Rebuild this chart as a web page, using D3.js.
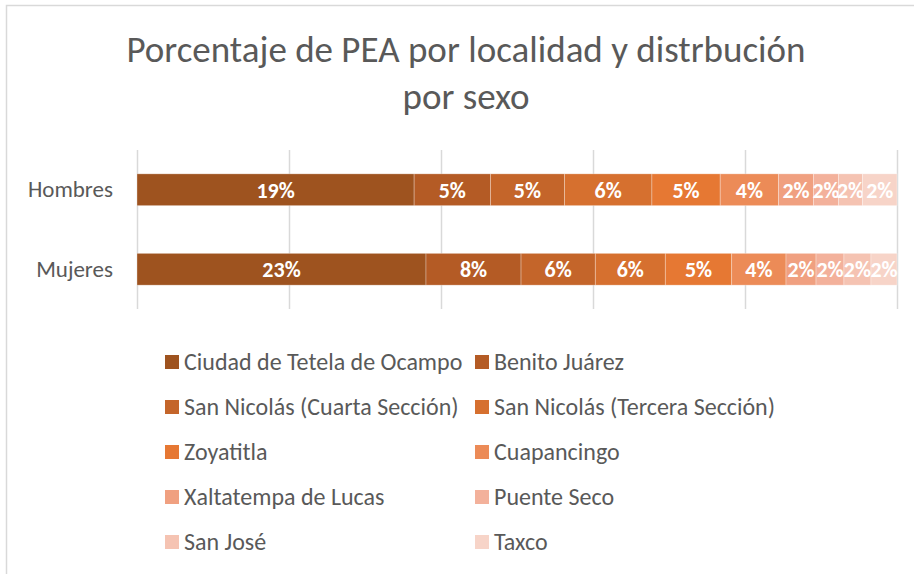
<!DOCTYPE html>
<html>
<head>
<meta charset="utf-8">
<script src="https://cdn.jsdelivr.net/npm/d3@7"></script>
<style>
  body { margin: 0; background: #fff; }
  svg { display: block; }
</style>
</head>
<body>
<div id="chart"></div>
<script>
// data (percent of PEA per locality)
const categories = ["Hombres", "Mujeres"];
const localidades = [
  "Ciudad de Tetela de Ocampo", "Benito Juárez",
  "San Nicolás (Cuarta Sección)", "San Nicolás (Tercera Sección)",
  "Zoyatitla", "Cuapancingo",
  "Xaltatempa de Lucas", "Puente Seco",
  "San José", "Taxco"
];
const hombres = [18.95, 5.22, 5.06, 5.98, 4.67, 3.99, 2.39, 1.71, 1.64, 2.36];
const mujeres = [23.2, 7.63, 5.96, 5.62, 5.33, 4.36, 2.41, 2.24, 2.17, 2.09];
const colores = ["#9E531F", "#B45B25", "#C4652A", "#D6702F", "#E67833",
                 "#EC8B57", "#F0A080", "#F3B19B", "#F5C3B2", "#F7D4C8"];
const gridTicks = [0, 0.2, 0.4, 0.6, 0.8, 1];

const width = 914, height = 574;
const font = "Carlito, Calibri, Lato, sans-serif";
const textColor = "#595959";

const svg = d3.select("#chart").append("svg")
  .attr("width", width).attr("height", height);

// chart border (only top/left visible in the crop)
svg.append("rect")
  .attr("x", 6.5).attr("y", 5.5)
  .attr("width", width + 20).attr("height", height + 20)
  .attr("fill", "#fff").attr("stroke", "#D9D9D9").attr("stroke-width", 1.5);

// title
const title = svg.append("text")
  .attr("text-anchor", "middle")
  .attr("font-family", font).attr("font-size", 37)
  .attr("fill", textColor);
title.append("tspan").attr("x", 466).attr("y", 62).text("Porcentaje de PEA por localidad y distrbución");
title.append("tspan").attr("x", 466).attr("y", 109).text("por sexo");

// rows for stacking
const rows = categories.map((c, i) => {
  const vals = i === 0 ? hombres : mujeres;
  const r = { cat: c };
  localidades.forEach((l, j) => r[l] = vals[j]);
  return r;
});

const series = d3.stack()
  .keys(localidades)
  .offset(d3.stackOffsetExpand)(rows);

const x = d3.scaleLinear().domain([0, 1]).range([137, 897]);
const y = d3.scaleBand().domain(categories).range([150, 309])
  .paddingInner(0.6).paddingOuter(0.3);

// gridlines
const grid = svg.append("g")
  .attr("transform", "translate(0,309)")
  .call(d3.axisBottom(x).tickValues(gridTicks).tickSize(-159).tickFormat(""));
grid.select(".domain").remove();
grid.selectAll("line").attr("stroke", "#D9D9D9").attr("stroke-width", 1.5);

// category axis
const gy = svg.append("g")
  .attr("transform", "translate(137,0)")
  .call(d3.axisLeft(y).tickSize(0).tickPadding(24));
gy.select(".domain").remove();
gy.selectAll("text")
  .attr("font-family", font).attr("font-size", 23).attr("fill", textColor);

// bars
const layer = svg.append("g").selectAll("g")
  .data(series).enter().append("g")
  .attr("fill", (d, i) => colores[i]);

layer.selectAll("rect")
  .data(d => d).enter().append("rect")
  .attr("x", d => x(d[0]))
  .attr("y", d => y(d.data.cat))
  .attr("width", d => x(d[1]) - x(d[0]))
  .attr("height", y.bandwidth())
  .attr("stroke", "#fff").attr("stroke-opacity", 0.4).attr("stroke-width", 0.75);

// data labels
const fmt = d3.format(".0%");
layer.each(function (s) {
  d3.select(this).selectAll("text")
    .data(s).enter().append("text")
    .attr("x", d => (x(d[0]) + x(d[1])) / 2)
    .attr("y", d => y(d.data.cat) + y.bandwidth() / 2)
    .attr("dy", "0.36em")
    .attr("text-anchor", "middle")
    .attr("font-family", font).attr("font-size", 22).attr("font-weight", "bold")
    .attr("fill", "#fff")
    .text(d => fmt(d.data[s.key] / 100));
});

// legend, two columns
const legend = svg.append("g");
const item = legend.selectAll("g")
  .data(localidades).enter().append("g")
  .attr("transform", (d, i) => `translate(${i % 2 === 0 ? 165 : 475},${362 + Math.floor(i / 2) * 45})`);
item.append("rect")
  .attr("x", 0).attr("y", -7).attr("width", 14).attr("height", 14)
  .attr("fill", (d, i) => colores[i]);
item.append("text")
  .attr("x", 19).attr("dy", "0.35em")
  .attr("font-family", font).attr("font-size", 24).attr("fill", textColor)
  .text(d => d);
</script>
</body>
</html>
